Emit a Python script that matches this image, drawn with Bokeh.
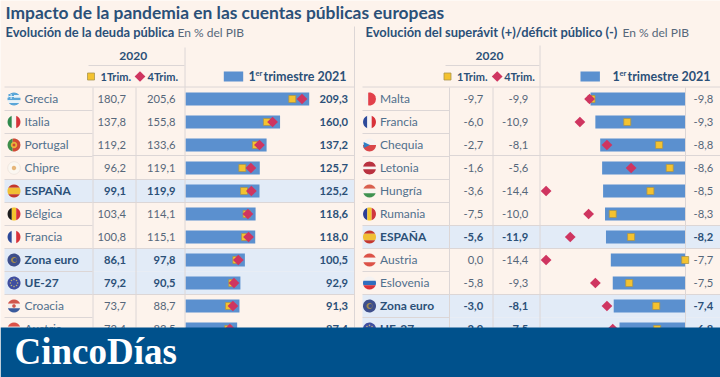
import numpy as np
from bokeh.plotting import figure
from bokeh.models import Range1d
from bokeh.core.properties import value
from bokeh.embed import file_html
from bokeh.resources import INLINE

title = "Impacto de la pandemia en las cuentas públicas europeas"
debt_head = "Evolución de la deuda pública"
def_head = "Evolución del superávit (+)/déficit público (-)"
unit = "En % del PIB"

debt_names = ["Grecia", "Italia", "Portugal", "Chipre", "ESPAÑA", "Bélgica", "Francia", "Zona euro", "UE-27", "Croacia", "Austria"]
debt_q1 = [180.7, 137.8, 119.2, 96.2, 99.1, 103.4, 100.8, 86.1, 79.2, 73.7, 72.4]
debt_q4 = [205.6, 155.8, 133.6, 119.1, 119.9, 114.1, 115.1, 97.8, 90.5, 88.7, 83.5]
debt_21 = [209.3, 160.0, 137.2, 125.7, 125.2, 118.6, 118.0, 100.5, 92.9, 91.3, 87.4]
debt_bold = ["ESPAÑA", "Zona euro", "UE-27"]

def_names = ["Malta", "Francia", "Chequia", "Letonia", "Hungría", "Rumania", "ESPAÑA", "Austria", "Eslovenia", "Zona euro", "UE-27"]
def_q1 = [-9.7, -6.0, -2.7, -1.6, -3.6, -7.5, -5.6, 0.0, -5.8, -3.0, -2.9]
def_q4 = [-9.9, -10.9, -8.1, -5.6, -14.4, -10.0, -11.9, -14.4, -9.3, -8.1, -7.5]
def_21 = [-9.8, -9.3, -8.8, -8.6, -8.5, -8.3, -8.2, -7.7, -7.5, -7.4, -6.8]

BG = "#fdf3ec"; HL = "#e2ebf7"; BAR = "#5b90cf"; SQ = "#f4c22f"; SQL = "#a9964e"; DI = "#cf3560"
NAVY = "#2b5078"; NAME = "#51708c"; NUM = "#56677a"; LINE = "#dcd6d6"; BANNER = "#00518c"
FONT = "Lato"

W, H = 720, 377
p = figure(width=W, height=H, x_range=Range1d(0, 720), y_range=Range1d(377, 0),
           x_axis_type=None, y_axis_type=None, toolbar_location=None, output_backend="svg",
           min_border=0, background_fill_color=BG, border_fill_color=BG, outline_line_color=None)
p.grid.visible = False

ROW0, ROWH = 98.5, 23.0
p.extra_y_ranges["rows"] = Range1d((377 - ROW0) / ROWH, -ROW0 / ROWH)
K1, Z1 = 0.591, 185.0
p.extra_x_ranges["debt"] = Range1d(-Z1 / K1, (720 - Z1) / K1)
p.extra_x_ranges["debt4"] = Range1d(-(Z1 - 5) / K1, (720 - Z1 + 5) / K1)
K2, Z2 = 9.66, 684.7
p.extra_x_ranges["def"] = Range1d(-Z2 / K2, (720 - Z2) / K2)

def ypx(i):
    return ROW0 + ROWH * i

def txt(x, y, s, size, color=NUM, bold=False, align="left", font=FONT):
    p.text([x], [y], text=[s], text_font=value(font), text_font_size=f"{size}px",
           text_color=color, text_align=align, text_baseline="middle",
           text_font_style="bold" if bold else "normal")

def hline(x0, x1, y, color=LINE, w=1.0):
    p.line([x0, x1], [y, y], line_color=color, line_width=w)

def vline(x, y0, y1, color=LINE, w=1.0):
    p.line([x, x], [y0, y1], line_color=color, line_width=w)

def disc(cx, cy, r, color, line=None):
    t = np.linspace(0, 2 * np.pi, 40)
    p.patch(cx + r * np.cos(t), cy + r * np.sin(t), fill_color=color, line_color=line, line_width=0.7)

def stripes(cx, cy, colors, vertical=False, r=6.5, weights=None):
    n = len(colors)
    weights = weights or [1] * n
    edges = np.cumsum([0] + weights) / sum(weights) * 2 * r - r
    for k, c in enumerate(colors):
        s = np.linspace(edges[k], edges[k + 1], 14)
        w = np.sqrt(np.maximum(r * r - s * s, 0))
        a = np.concatenate([s, s[::-1]])
        b = np.concatenate([w, -w[::-1]])
        xs, ys = (cx + a, cy + b) if vertical else (cx + b, cy + a)
        p.patch(xs, ys, fill_color=c, line_color=None)

def greece(x, y):
    stripes(x, y, ["#5aa6d8", "#e8f2f8", "#5aa6d8", "#e8f2f8", "#5aa6d8"])
    p.quad(left=[x - 5.5], right=[x], top=[y - 5], bottom=[y], fill_color="#5aa6d8", line_color=None)
    p.quad(left=[x - 3.4], right=[x - 2.4], top=[y - 5], bottom=[y], fill_color="#e8f2f8", line_color=None)
    p.quad(left=[x - 5.5], right=[x], top=[y - 3], bottom=[y - 2], fill_color="#e8f2f8", line_color=None)

def czech(x, y):
    stripes(x, y, ["#f4f2f2", "#d9474a"])
    p.patch([x - 5.8, x + 0.5, x - 5.8], [y - 3, y, y + 3], fill_color="#2f7fc4", line_color=None)

def eu(x, y):
    disc(x, y, 6.5, "#3f4ea0")
    t = np.linspace(0, 2 * np.pi, 9)[:-1]
    p.scatter(x + 3.6 * np.cos(t), y + 3.6 * np.sin(t), marker="circle", size=1.6, fill_color="#b9b27a", line_color=None)

FLAGS = {
    "Grecia": greece,
    "Italia": lambda x, y: stripes(x, y, ["#2f8a4e", "#f6f4f0", "#d4343a"], True),
    "Portugal": lambda x, y: (stripes(x, y, ["#3f8f4a", "#cf4a35"], True, weights=[2, 3]), disc(x, y, 3.2, "#e8b23a"), disc(x, y, 1.4, "#cf4a35")),
    "Chipre": lambda x, y: (disc(x, y, 6.3, "#fbf7f1", "#e9e0d8"), disc(x, y, 2.2, "#e6b67a")),
    "ESPAÑA": lambda x, y: stripes(x, y, ["#c4372d", "#f0bf35", "#c4372d"], weights=[1, 2, 1]),
    "Bélgica": lambda x, y: stripes(x, y, ["#1e1e1e", "#f3c62f", "#d6323a"], True),
    "Francia": lambda x, y: stripes(x, y, ["#2d4a9a", "#f6f4f4", "#d8323a"], True),
    "Zona euro": lambda x, y: (disc(x, y, 6.5, "#3e4f8c"), disc(x, y, 3, "#a08a50"), disc(x + 0.9, y, 2, "#3e4f8c")),
    "UE-27": eu,
    "Croacia": lambda x, y: (stripes(x, y, ["#d0564c", "#f5efec", "#3a5a9c"]), disc(x, y, 1.8, "#d0564c")),
    "Austria": lambda x, y: stripes(x, y, ["#dc5248", "#f8f5f2", "#dc5248"]),
    "Malta": lambda x, y: stripes(x, y, ["#f7f2ee", "#e2404a"], True, weights=[2, 3]),
    "Chequia": czech,
    "Letonia": lambda x, y: stripes(x, y, ["#b93240", "#f8f3f0", "#b93240"], weights=[2, 1, 2]),
    "Hungría": lambda x, y: stripes(x, y, ["#d9604e", "#f7f4ef", "#3f9250"]),
    "Rumania": lambda x, y: stripes(x, y, ["#2c3f96", "#f2c62e", "#cf3640"], True),
    "Eslovenia": lambda x, y: stripes(x, y, ["#f4f2f2", "#2f6fc0", "#d9323a"]),
}

def panel(names, q1, q4, v21, fmt_range, q4_range, x_flag, x_name, x_c1, x_c2, x_val,
          hl_x0, hl_x1, name_x1, col_v, bar_top):
    rows = list(range(len(names)))
    for i, n in enumerate(names):
        if n in debt_bold:
            p.quad(left=[hl_x0], right=[hl_x1], top=[ypx(i) - 11.5], bottom=[ypx(i) + 11.5],
                   fill_color=HL, line_color=None)
    p.hbar(y=rows, left=[0] * len(rows), right=v21, height=13 / ROWH, fill_color=BAR, line_color=None,
           x_range_name=fmt_range, y_range_name="rows")
    for i in range(len(names) - 1):
        hline(hl_x0, name_x1, ypx(i) + 11.5)
    for x in col_v:
        vline(x, bar_top, 327)
    p.scatter(x=q1, y=rows, marker="square", size=7, fill_color=SQ, line_color=SQL, line_width=0.8,
              x_range_name=fmt_range, y_range_name="rows")
    p.scatter(x=q4, y=rows, marker="square", angle=np.pi / 4, size=7.6, fill_color=DI, line_color=None,
              x_range_name=q4_range, y_range_name="rows")
    for i, n in enumerate(names):
        y = ypx(i)
        b = n in debt_bold
        FLAGS[n](x_flag, y)
        txt(x_name, y - 0.5, n, 12, NAVY if b else NAME, b)
        f = lambda v: f"{v:.1f}".replace(".", ",")
        txt(x_c1, y - 0.5, f(q1[i]), 11.2, NAVY if b else NUM, b, "right")
        txt(x_c2, y - 0.5, f(q4[i]), 11.2, NAVY if b else NUM, b, "right")
        vb = fmt_range == "debt" or b
        txt(x_val, y - 0.5, f(v21[i]), 11.2, NAVY if vb else NUM, vb, "right")

panel(debt_names, debt_q1, debt_q4, debt_21, "debt", "debt4", 13.5, 24, 125.5, 175, 347.5,
      4, 354, 92, [92.5, 135.5, 184.5], 87)
panel(def_names, def_q1, def_q4, def_21, "def", "def", 369, 379.5, 482.7, 527.7, 712.7,
      362, 720, 449, [449, 492.5, 539.5, 685], 87)

hline(4, 354, 86.5); hline(362, 720, 86.5)
for y in (155, 179, 202, 248, 294):
    hline(92, 354, y)
for y in (155, 225, 248, 294):
    hline(449, 720, y)
hline(88, 184, 65); hline(445, 539, 65)
vline(184.5, 47, 87); vline(539.5, 45, 87)
vline(354, 26, 327)

txt(5, 11.5, title, 17.4, NAVY, True)
txt(5, 31.5, debt_head, 12.9, NAVY, True)
txt(177, 31.5, unit, 12, NUM)
txt(365, 31.5, def_head, 12.9, NAVY, True)
txt(622, 31.5, unit, 12, NUM)

for cx, sx, t1, dx, t2 in ((132.7, 90.5, 100, 139.5, 147), (489, 447, 456.5, 496.7, 503.7)):
    txt(cx, 55.5, "2020", 12, NAVY, True, "center")
    p.scatter([sx], [76], marker="square", size=7, fill_color=SQ, line_color=SQL, line_width=0.8)
    txt(t1, 75.5, "1Trim.", 11, NAVY, True)
    p.scatter([dx], [76], marker="square", angle=np.pi / 4, size=7.6, fill_color=DI, line_color=None)
    txt(t2, 75.5, "4Trim.", 11, NAVY, True)
for bx0, tx in ((223.3, 248), (580, 612)):
    p.quad(left=[bx0], right=[bx0 + 19.4], top=[71], bottom=[81], fill_color=BAR, line_color=None)
    txt(tx, 75.5, "1", 12.5, NAVY, True)
    txt(tx + 7, 72.5, "er", 7.5, NAVY, True)
    txt(tx + 15, 75.5, "trimestre 2021", 12.5, NAVY, True)

p.quad(left=[0], right=[720], top=[327], bottom=[377], fill_color=BANNER, line_color=None)
txt(14, 351, "CincoDías", 37, "#ffffff", True, font="Liberation Serif")

open("out.html", "w").write(file_html(p, INLINE))
